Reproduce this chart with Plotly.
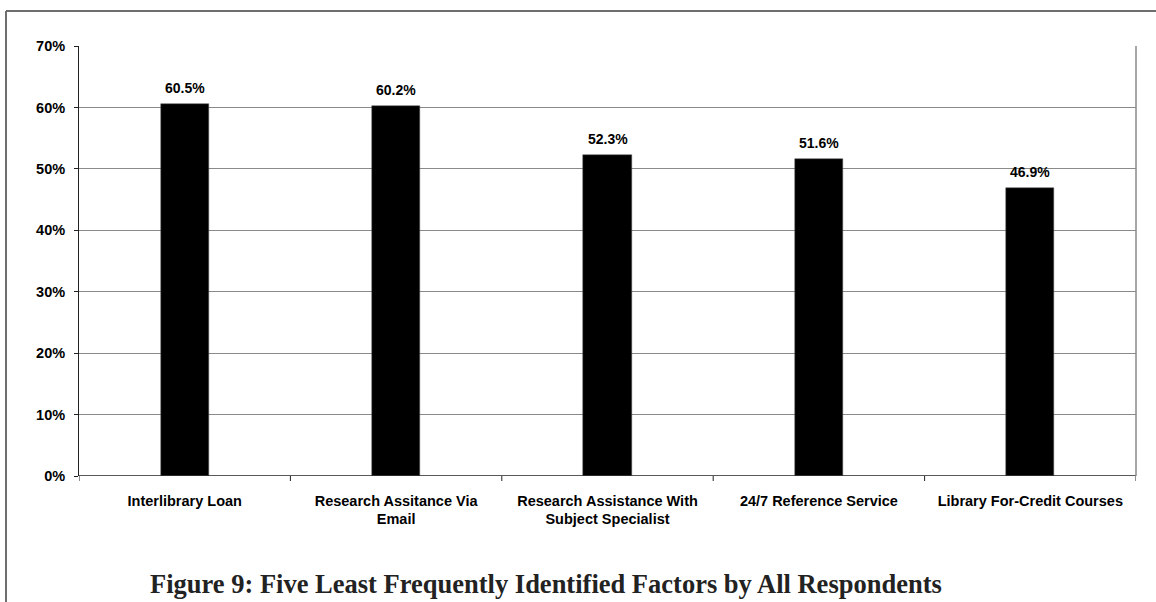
import plotly.graph_objects as go

# Survey results: share of respondents identifying each factor
categories = [
    "Interlibrary Loan",
    "Research Assitance Via<br>Email",
    "Research Assistance With<br>Subject Specialist",
    "24/7 Reference Service",
    "Library For-Credit Courses",
]
values = [60.5, 60.2, 52.3, 51.6, 46.9]
value_labels = ["60.5%", "60.2%", "52.3%", "51.6%", "46.9%"]
y_ticks = [0, 10, 20, 30, 40, 50, 60, 70]
y_tick_labels = ["0%", "10%", "20%", "30%", "40%", "50%", "60%", "70%"]
title_text = "Figure 9: Five Least Frequently Identified Factors by All Respondents"

W, H = 1156, 602
L, R, T, B = 79, 1136, 46, 476
SANS = "Liberation Sans, Arial"

fig = go.Figure(
    go.Bar(
        x=list(range(len(categories))),
        y=values,
        width=0.228,
        marker=dict(color="black", line=dict(color="#555555", width=0.5)),
        hoverinfo="skip",
    )
)

def px_x(p):
    return (p - L) / (R - L)

def px_y(p):
    return (B - p) / (B - T)

fig.update_layout(
    width=W,
    height=H,
    margin=dict(l=L, r=W - R, t=T, b=H - B),
    paper_bgcolor="white",
    plot_bgcolor="white",
    showlegend=False,
    bargap=0,
    font=dict(family=SANS, size=12, color="black"),
    xaxis=dict(
        range=[-0.5, 4.5],
        tickmode="array",
        tickvals=list(range(len(categories))),
        ticktext=[f"<b>{c}</b>" for c in categories],
        tickfont=dict(size=14.5, color="black"),
        showgrid=False,
        showline=False,
        ticks="",
        ticklabelstandoff=14,
        zeroline=False,
        fixedrange=True,
    ),
    yaxis=dict(
        range=[0, 70],
        tickmode="array",
        tickvals=y_ticks,
        ticktext=[f"<b>{t}</b>" for t in y_tick_labels],
        tickfont=dict(size=14.5, color="black"),
        showgrid=True,
        gridcolor="#8a8a8a",
        gridwidth=1,
        showline=True,
        linecolor="#222222",
        linewidth=1,
        ticks="outside",
        ticklen=4,
        tickcolor="#222222",
        ticklabelstandoff=6,
        zeroline=False,
        fixedrange=True,
    ),
)

# value labels above each bar
for i, (v, lab) in enumerate(zip(values, value_labels)):
    fig.add_annotation(
        x=i, y=v, xref="x", yref="y",
        text=f"<b>{lab}</b>",
        showarrow=False,
        yanchor="bottom",
        yshift=6,
        font=dict(family=SANS, size=14, color="black"),
    )

shapes = []
# x axis baseline
shapes.append(dict(type="line", xref="paper", yref="y", x0=0, x1=1, y0=0, y1=0,
                   line=dict(color="#222222", width=1.5)))
# right border of plot area
shapes.append(dict(type="line", xref="paper", yref="paper", x0=1, x1=1, y0=0, y1=1,
                   line=dict(color="#8a8a8a", width=1.5)))
# category separator ticks below the axis
for k in range(len(categories) + 1):
    xb = k - 0.5
    shapes.append(dict(type="line", xref="x", yref="paper", x0=xb, x1=xb,
                       y0=0, y1=px_y(B + 5), line=dict(color="#222222", width=1)))
# outer frame (top and left edges)
shapes.append(dict(type="line", xref="paper", yref="paper",
                   x0=px_x(6), x1=px_x(W + 5), y0=px_y(11), y1=px_y(11),
                   line=dict(color="#6e6e6e", width=2)))
shapes.append(dict(type="line", xref="paper", yref="paper",
                   x0=px_x(6), x1=px_x(6), y0=px_y(11), y1=px_y(H + 5),
                   line=dict(color="#6e6e6e", width=2)))
fig.update_layout(shapes=shapes)

fig.add_annotation(
    text=f"<b>{title_text}</b>",
    xref="paper", yref="paper",
    x=px_x(546), y=px_y(567),
    xanchor="center", yanchor="top",
    showarrow=False,
    font=dict(family="Liberation Serif, serif", size=26.5, color="#222222"),
)

fig.write_html("out.html", config={"displayModeBar": False})
